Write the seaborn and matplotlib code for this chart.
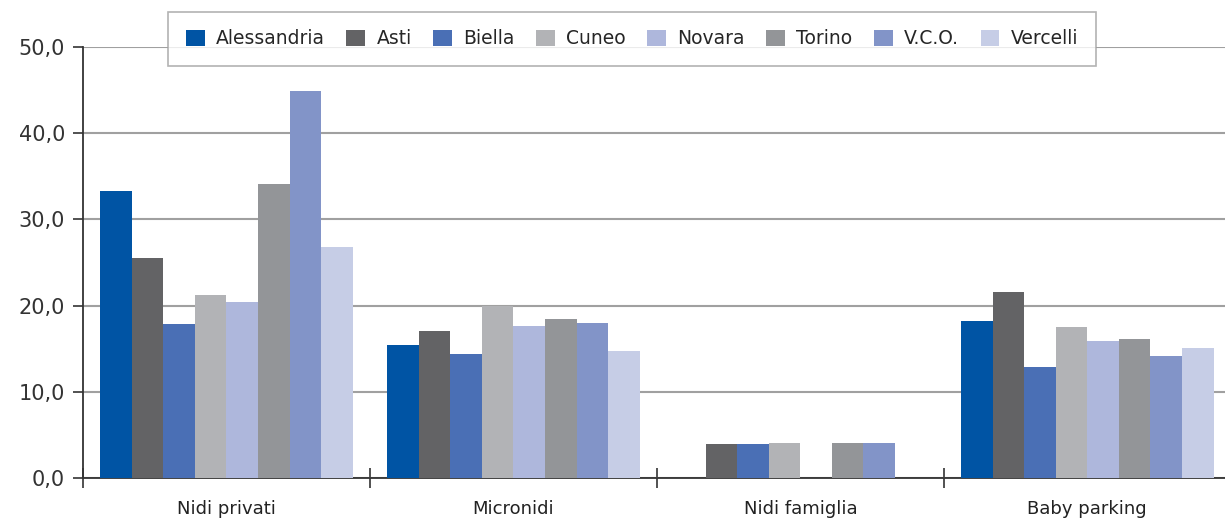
import numpy as np
import pandas as pd
import matplotlib
matplotlib.use("Agg")
import matplotlib.pyplot as plt
import seaborn as sns
from matplotlib.ticker import FuncFormatter, FixedLocator

categories = ["Nidi privati", "Micronidi", "Nidi famiglia", "Baby parking"]
provinces = ["Alessandria", "Asti", "Biella", "Cuneo", "Novara", "Torino", "V.C.O.", "Vercelli"]

alessandria = [33.3, 15.4, np.nan, 18.2]
asti = [25.5, 17.0, 3.9, 21.6]
biella = [17.9, 14.4, 3.9, 12.9]
cuneo = [21.2, 19.9, 4.1, 17.5]
novara = [20.4, 17.6, np.nan, 15.9]
torino = [34.1, 18.4, 4.1, 16.1]
vco = [44.9, 18.0, 4.1, 14.2]
vercelli = [26.8, 14.7, np.nan, 15.1]

series = [alessandria, asti, biella, cuneo, novara, torino, vco, vercelli]
colors = ["#0054A4", "#636365", "#4A6FB5", "#B2B3B6", "#AEB7DC", "#939598", "#8294C8", "#C6CDE6"]

rows = []
for prov, vals in zip(provinces, series):
    for cat, v in zip(categories, vals):
        rows.append({"Categoria": cat, "Provincia": prov, "Valore": v})
df = pd.DataFrame(rows)

sns.set_theme(style="white")
plt.rcParams['font.family'] = ['DejaVu Sans']

fig = plt.figure(figsize=(12.25, 5.19), dpi=100)
ax = fig.add_axes([83 / 1225, 1 - 478 / 519, 1 - 83 / 1225, (478 - 47) / 519])

sns.barplot(data=df, x="Categoria", y="Valore", hue="Provincia", order=categories,
            hue_order=provinces, palette=colors, width=0.88, saturation=1,
            linewidth=0, ax=ax, legend=True, zorder=3)

ax.set_ylim(0, 50)
ax.set_xlim(-0.5, 3.48)
ax.set_yticks([0, 10, 20, 30, 40, 50])
ax.yaxis.set_major_formatter(FuncFormatter(lambda v, p: f"{v:.1f}".replace(".", ",")))
ax.yaxis.grid(True, color="#A0A0A0", linewidth=1.5, zorder=0)
ax.set_axisbelow(True)
ax.set_xlabel("")
ax.set_ylabel("")

for s in ["top", "right"]:
    ax.spines[s].set_visible(False)
ax.spines["left"].set_color("#333333")
ax.spines["bottom"].set_color("#333333")
ax.spines["left"].set_linewidth(1.3)
ax.spines["bottom"].set_linewidth(1.3)

ax.tick_params(axis="y", which="major", left=True, length=7, width=1.2, color="#333333",
               labelsize=15, labelcolor="#333333", pad=6)
ax.set_xticks([0, 1, 2, 3])
ax.set_xticklabels(categories)
ax.tick_params(axis="x", which="major", bottom=False, labelsize=13, labelcolor="#222222", pad=10)
ax.xaxis.set_minor_locator(FixedLocator([-0.5, 0.5, 1.5, 2.5]))
ax.tick_params(axis="x", which="minor", bottom=True, direction="inout", length=14, width=1.2,
               color="#333333")

leg = ax.legend(loc="center", bbox_to_anchor=(632 / 1225, 1 - 39 / 519), bbox_transform=fig.transFigure,
                ncol=8, frameon=True, fancybox=False, fontsize=13.5, handlelength=1.0,
                handleheight=1.0, handletextpad=0.6, columnspacing=1.15, borderpad=0.95)
leg.get_frame().set_edgecolor("#A0A0A0")
leg.get_frame().set_linewidth(1.2)
leg.set_zorder(10)

fig.savefig("out.png", dpi=100)
